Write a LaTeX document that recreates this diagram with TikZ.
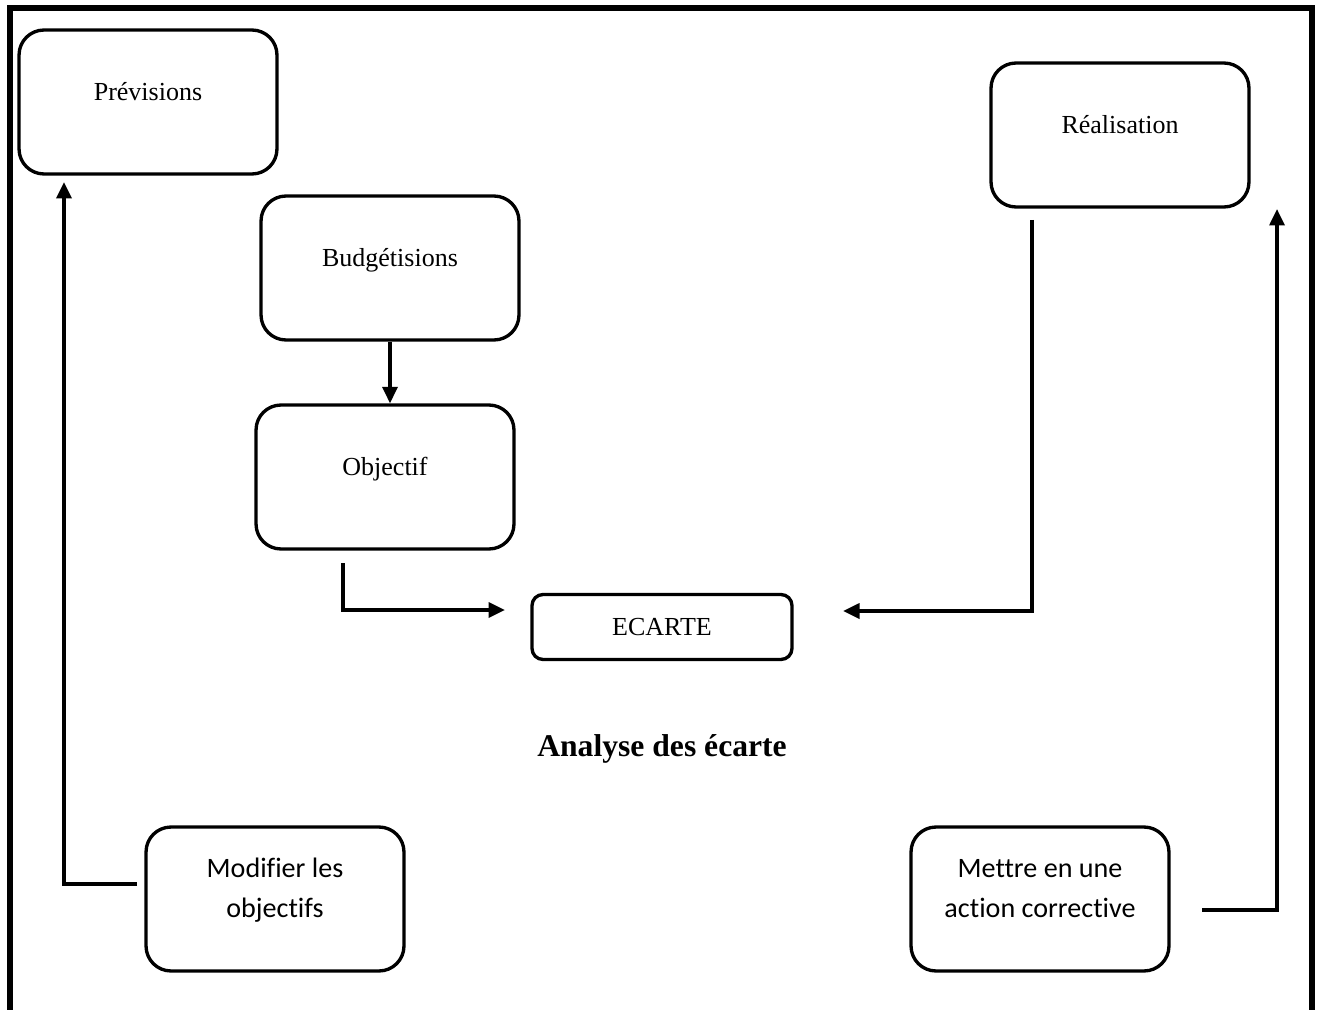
\documentclass[tikz,border=0pt]{standalone}
\usepackage{fontspec}
\setmainfont{Liberation Serif}
\newfontfamily\boxsans[Ligatures=NoCommon]{Carlito}
\usetikzlibrary{arrows.meta, positioning}

\begin{document}
\begin{tikzpicture}[x=0.02cm, y=-0.02cm,
    bigbox/.style={draw, line width=1.9pt, rounded corners=0.5cm,
        minimum width=5.16cm, minimum height=2.88cm,
        font=\fontsize{14.8}{17}\selectfont, text height=0.35cm, text depth=0.41cm},
    sansbox/.style={bigbox, align=center, font=\boxsans\fontsize{16}{22.7}\selectfont,
        text height=1.16cm, text depth=0.42cm},
    smallbox/.style={draw, line width=1.9pt, rounded corners=0.22cm,
        minimum width=5.2cm, minimum height=1.3cm, font=\fontsize{14.8}{17}\selectfont},
    arr/.style={-{Triangle[length=0.33cm, width=0.3cm]}, line width=1.9pt}]

    % Page frame (open at the bottom)
    \useasboundingbox (0,0) rectangle (1318,1010);
    \draw[line width=3pt] (10,1010) -- (10,8) -- (1312,8) -- (1312,1010);

    % Boxes
    \node[bigbox] (prev) at (148,102) {Prévisions};
    \node[bigbox] (budg) at (390,268) {Budgétisions};
    \node[bigbox] (obj) at (385,477) {Objectif};
    \node[bigbox] (real) at (1120,135) {Réalisation};
    \node[smallbox] (ecart) at (662,627) {ECARTE};
    \node[sansbox] (modif) at (275,899) {Modifier les\\objectifs};
    \node[sansbox] (action) at (1040,899) {Mettre en une\\action corrective};

    % Title
    \node[font=\fontsize{18}{21}\selectfont\bfseries] (title) at (662,749) {Analyse des écarte};

    % Free ends of the connectors
    \coordinate (objout) at (343,563);
    \coordinate (ecartin) at (505,610);
    \coordinate (realout) at (1032,220);
    \coordinate (ecartin2) at (843,611);
    \coordinate (modifout) at (137,884);
    \coordinate (previn) at (64,182);
    \coordinate (actionout) at (1202,910);
    \coordinate (realin) at (1277,209);

    % Connectors
    \draw[arr] (budg.south) -- (budg.south |- obj.north);
    \draw[arr] (objout) |- (ecartin);
    \draw[arr] (realout) |- (ecartin2);
    \draw[arr] (modifout) -| (previn);
    \draw[arr] (actionout) -| (realin);

\end{tikzpicture}
\end{document}
